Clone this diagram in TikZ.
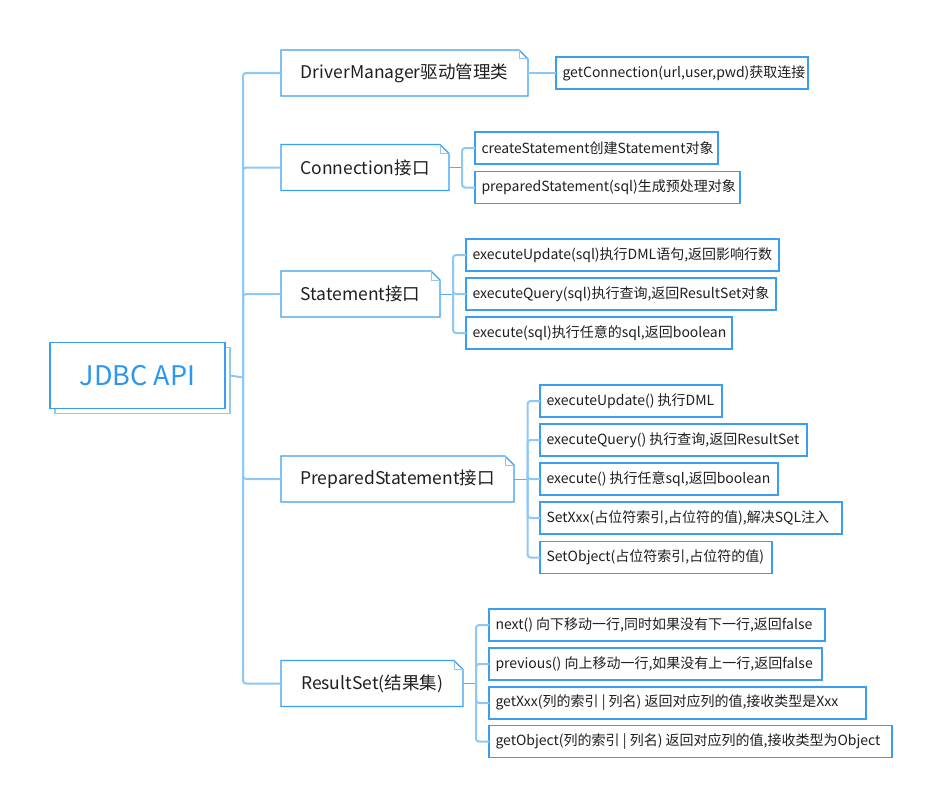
\documentclass[tikz,border=0pt]{standalone}
\usepackage{fontspec}
\setmainfont{Noto Sans CJK SC}
\usetikzlibrary{shadows}
\definecolor{bd}{HTML}{3A9EF2}
\definecolor{ln}{HTML}{8FC8F7}
\definecolor{tx}{HTML}{1F1F1F}
\definecolor{rt}{HTML}{2B97EE}
\newcommand\leafnode[5]{\node[leaf, minimum width=#4pt] (#1) at (#2,#3)
  {\makebox[\dimexpr#4pt-13pt\relax][l]{#5}};}
\begin{document}
\begin{tikzpicture}[x=1pt,y=-1pt,
  rootbox/.style={draw=bd, line width=1.2pt, fill=white, inner sep=0pt, outer sep=0pt,
    minimum width=175pt, minimum height=66pt, text=rt, font=\fontsize{27}{30}\selectfont,
    copy shadow={shadow xshift=5pt, shadow yshift=-5pt, draw=ln, fill=white}},
  l2/.style={draw=none, inner sep=0pt, outer sep=0pt, minimum height=46pt,
    font=\fontsize{17.5}{20}\selectfont, text=tx},
  leaf/.style={draw=bd, line width=1.2pt, fill=white, inner sep=0pt, outer sep=0pt,
    minimum height=32pt, font=\fontsize{14}{16}\selectfont, text=tx, anchor=west},
  trunk/.style={draw=ln, line width=2pt, rounded corners=3pt},
  stub/.style={draw=bd!85, line width=1pt},
  boxline/.style={draw=bd, line width=1.2pt, line join=miter},
  foldline/.style={draw=ln, line width=1pt}]
\useasboundingbox (0,0) rectangle (942,808);

% root
\node[rootbox] (root) at (137.5,375.5) {JDBC API};

% level 2
\node[l2, minimum width=247pt] (dm) at (404.5,73) {DriverManager驱动管理类};
\node[l2, minimum width=168pt] (cn) at (365,167.5) {Connection接口};
\node[l2, minimum width=159pt] (st) at (360.5,294) {Statement接口};
\node[l2, minimum width=233pt] (ps) at (397.5,479) {PreparedStatement接口};
\node[l2, minimum width=182pt] (rs) at (372,683.5) {ResultSet(结果集)};

\foreach \n in {dm,cn,st,ps,rs}{
  \draw[boxline] (\n.south west) -- (\n.north west) -- ([xshift=-9pt]\n.north east)
    -- ([yshift=-9pt]\n.north east) -- (\n.south east) -- cycle;
  \draw[foldline] ([xshift=-9pt]\n.north east) |- ([yshift=-9pt]\n.north east);
}

% leaves
\leafnode{gc}{556}{73}{252}{getConnection(url,user,pwd)获取连接}

\leafnode{c1}{475}{148}{243}{createStatement创建Statement对象}
\leafnode{c2}{475}{187.5}{265}{preparedStatement(sql)生成预处理对象}

\leafnode{s1}{466}{255}{313}{executeUpdate(sql)执行DML语句,返回影响行数}
\leafnode{s2}{466}{294}{310}{executeQuery(sql)执行查询,返回ResultSet对象}
\leafnode{s3}{466}{333}{266}{execute(sql)执行任意的sql,返回boolean}

\leafnode{p1}{540}{401}{182}{executeUpdate() 执行DML}
\leafnode{p2}{540}{440}{267}{executeQuery() 执行查询,返回ResultSet}
\leafnode{p3}{540}{479}{238}{execute() 执行任意sql,返回boolean}
\leafnode{p4}{540}{518}{302}{SetXxx(占位符索引,占位符的值),解决SQL注入}
\leafnode{p5}{540}{557.5}{232}{SetObject(占位符索引,占位符的值)}

\leafnode{r1}{489}{625}{336}{next() 向下移动一行,同时如果没有下一行,返回false}
\leafnode{r2}{489}{664}{333}{previous() 向上移动一行,如果没有上一行,返回false}
\leafnode{r3}{489}{703}{377}{getXxx(列的索引 | 列名) 返回对应列的值,接收类型是Xxx}
\leafnode{r4}{489}{741.5}{403}{getObject(列的索引 | 列名) 返回对应列的值,接收类型为Object}

% trunk
\coordinate (tr) at (243,377.5);
\draw[trunk] ([xshift=5pt]root.east) -- (tr);
\foreach \n in {dm,cn,st,ps,rs}{ \draw[trunk] (tr) |- (\n.west); }

% branches
\draw[trunk] (dm.east) -- (gc.west);

\coordinate (cnb) at (462,167.5);
\draw[stub] (cn.east) -- (cnb);
\foreach \n in {c1,c2}{ \draw[trunk] (cnb) |- (\n.west); }

\coordinate (stb) at (453,294);
\draw[stub] (st.east) -- (stb);
\foreach \n in {s1,s2,s3}{ \draw[trunk] (stb) |- (\n.west); }

\coordinate (psb) at (527.5,479);
\draw[stub] (ps.east) -- (psb);
\foreach \n in {p1,p2,p3,p4,p5}{ \draw[trunk] (psb) |- (\n.west); }

\coordinate (rsb) at (476,683.5);
\draw[stub] (rs.east) -- (rsb);
\foreach \n in {r1,r2,r3,r4}{ \draw[trunk] (rsb) |- (\n.west); }
\end{tikzpicture}
\end{document}
